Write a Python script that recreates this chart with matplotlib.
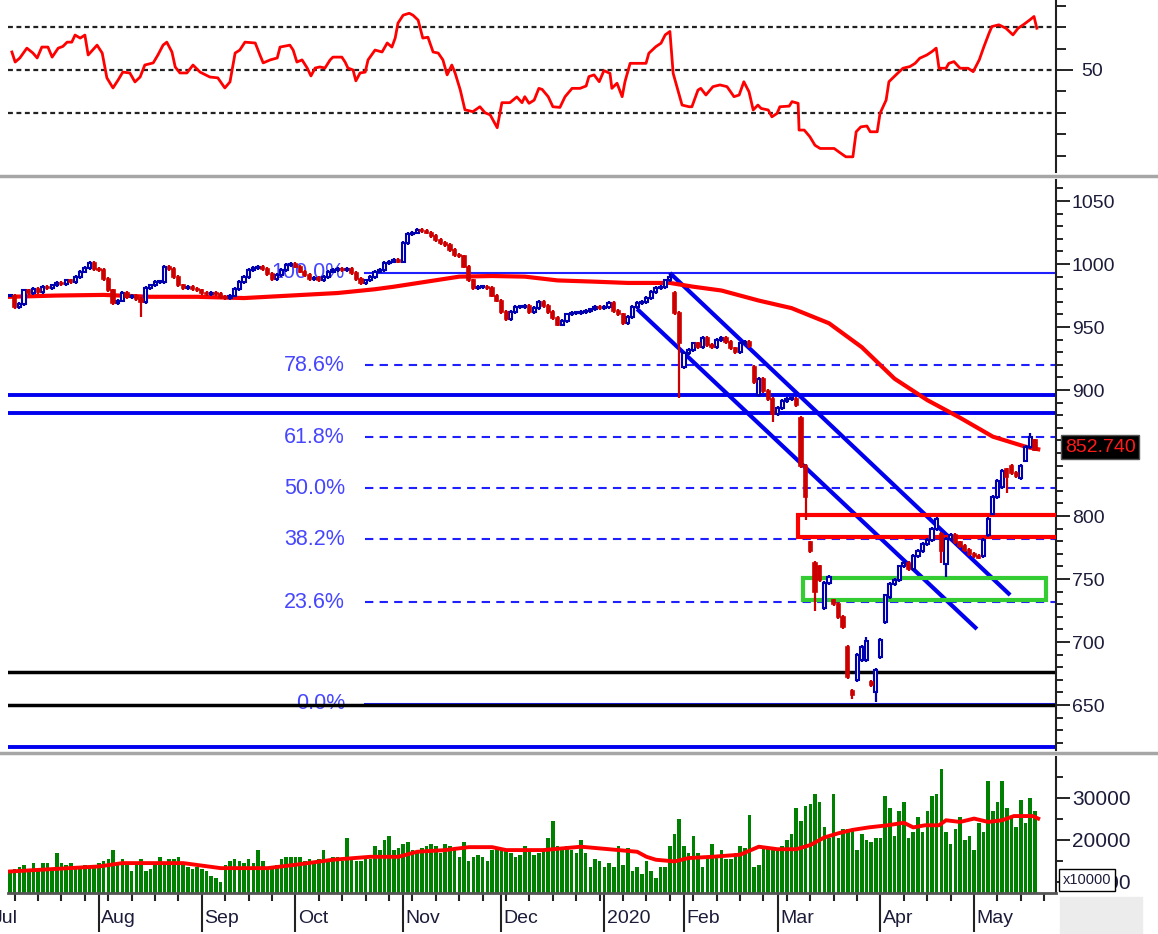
import matplotlib
matplotlib.use("Agg")
import matplotlib.pyplot as plt
import numpy as np
from matplotlib.patches import Rectangle
from matplotlib.lines import Line2D
from matplotlib.transforms import blended_transform_factory

plt.rcParams['font.family'] = ['Liberation Sans', 'DejaVu Sans']

W, H = 1158, 934

# ---- daily closes, one list per month (trading days) ----
jul = [975, 966, 968, 979, 977, 980, 978, 982, 981, 983, 985, 984, 987, 986, 990, 994, 997, 1001, 996]
aug = [995, 988, 979, 969, 971, 977, 974, 975, 972, 970, 981, 983, 986, 986, 998, 996, 990, 983, 981, 982, 980, 979]
sep = [977, 976, 977, 976, 974, 973, 975, 980, 986, 990, 995, 997, 998, 996, 992, 988, 991, 995, 999, 1000]
octo = [998, 994, 991, 988, 989, 987, 990, 994, 995, 996, 995, 996, 993, 988, 985, 987, 990, 994, 995, 1001, 1002, 1003, 1002]
nov = [1017, 1024, 1025, 1027, 1026, 1025, 1022, 1019, 1017, 1015, 1011, 1007, 1006, 998, 987, 981, 982, 982, 981, 975, 971]
dec = [962, 956, 962, 966, 966, 967, 962, 965, 970, 967, 962, 957, 952, 955, 960, 961, 961, 962, 963, 964, 966, 965]
jan = [966, 969, 963, 960, 953, 958, 966, 969, 970, 973, 978, 981, 982, 987, 990, 961, 937]
feb = [929, 932, 937, 934, 941, 936, 934, 940, 941, 938, 933, 930, 937, 938, 935, 906, 909, 899, 893, 881]
mar = [886, 891, 893, 893, 888, 840, 815, 772, 740, 749, 747, 752, 730, 720, 712, 672, 658, 690, 696, 701, 666, 678]
apr = [702, 737, 746, 749, 760, 763, 758, 768, 772, 778, 781, 790, 798, 772, 782, 785, 779, 776, 773, 770]
may = [768, 767, 781, 798, 815, 828, 836, 831, 834, 832, 840, 855, 863, 852.74]

# opening gaps (day index, open)
gap_days = [142, 144, 159, 160, 169, 171, 172, 173, 174, 176, 179, 180, 181, 182, 183, 184, 185,
            186, 187, 188, 199, 200, 208, 209, 210, 212, 213, 214, 216, 217, 219]
gap_opens = [977, 918, 918, 896, 878, 779, 763, 760, 727, 733, 696, 661, 670, 686, 686, 668, 660,
             688, 716, 736, 786, 762, 768, 785, 802, 823, 837, 840, 830, 844, 860]
# long shadows
low_days = [28, 143, 163, 170, 172, 180, 185, 199, 200, 213]
low_vals = [958, 894, 875, 797, 725, 655, 652, 763, 752, 818]
high_days = [141, 183, 218]
high_vals = [993, 704, 866]

# ---- volume (thousands), one list per month ----
vol_jul = [12.5, 13.0, 13.5, 14.0, 13.0, 14.5, 12.5, 14.5, 14.5, 13.0, 17.0, 14.5, 14.0, 14.5, 13.0, 13.0, 14.0, 13.5, 14.0]
vol_aug = [14.5, 15.0, 15.5, 17.5, 14.5, 15.5, 14.5, 12.5, 14.0, 15.5, 12.5, 13.0, 14.5, 16.0, 14.5, 15.5, 15.5, 16.0, 14.5, 13.5, 13.0, 13.5]
vol_sep = [13.0, 12.5, 11.5, 11.0, 10.0, 14.0, 15.0, 15.5, 15.0, 14.5, 15.5, 14.5, 17.5, 15.0, 13.0, 13.5, 14.0, 15.5, 16.0, 16.0]
vol_oct = [16.0, 16.0, 15.0, 15.5, 14.5, 15.5, 17.5, 15.0, 16.0, 16.0, 15.0, 20.5, 15.5, 15.0, 15.0, 16.0, 15.5, 18.5, 17.5, 20.0, 21.0, 17.5, 18.0]
vol_nov = [19.0, 19.5, 17.5, 17.0, 18.0, 18.5, 19.0, 18.5, 17.0, 19.0, 18.5, 17.5, 16.0, 19.5, 15.0, 16.0, 16.5, 16.0, 15.0, 17.5, 18.0]
vol_dec = [18.0, 17.5, 17.0, 16.0, 16.5, 18.5, 17.5, 16.5, 17.0, 17.5, 20.5, 24.5, 18.5, 18.0, 18.5, 17.5, 17.0, 20.0, 17.0, 13.5, 15.5, 15.0]
vol_jan = [13.5, 14.5, 13.5, 18.5, 14.0, 18.0, 12.5, 13.5, 12.0, 15.0, 12.5, 11.0, 13.5, 13.5, 18.5, 21.5, 25.0]
vol_feb = [18.5, 17.0, 21.0, 17.0, 13.5, 16.0, 19.0, 16.0, 17.5, 15.5, 15.5, 17.0, 18.5, 18.0, 26.0, 13.5, 14.0, 18.5, 18.0, 17.5]
vol_mar = [18.0, 18.5, 20.0, 21.5, 27.5, 24.5, 28.0, 28.5, 31.0, 29.0, 23.0, 20.5, 31.0, 20.5, 22.5, 22.5, 22.5, 17.5, 21.5, 20.0, 19.5, 20.5]
vol_apr = [20.5, 30.5, 27.5, 21.0, 27.0, 29.0, 20.5, 22.0, 25.5, 22.0, 27.0, 30.5, 31.0, 37.0, 22.0, 19.0, 22.5, 25.5, 20.0, 21.0]
vol_may = [17.5, 24.0, 22.0, 34.0, 27.0, 29.0, 34.0, 27.5, 25.5, 23.0, 29.5, 24.0, 30.0, 27.0]

# ---- moving averages ----
ma_day = [0, 10, 20, 30, 40, 50, 60, 70, 78, 82, 89, 96, 103, 110, 117, 125, 132, 141, 146, 152,
          160, 167, 175, 182, 189, 196, 203, 210, 217, 219.7]
ma_val = [974, 975, 975.5, 974, 974, 973, 975, 977, 980, 982, 986, 990, 990.5, 990, 987, 986, 985, 985, 982, 979,
          971, 965, 953, 934, 909, 892, 878, 863, 855, 853]
vma_day = [0, 19, 24, 37, 45, 55, 61, 69, 77, 83, 87, 93, 98, 103, 106, 114, 122, 130, 134, 136,
           138, 142, 145, 150, 156, 160, 164, 168, 171, 174, 177, 180, 183.5, 187.5, 191, 193, 195.5, 198.5, 200, 203,
           206, 209, 212, 214.5, 218.5, 219.7]
vma_val = [12.5, 13.7, 14.5, 14.5, 13.3, 13.3, 14.1, 15.3, 16.0, 16.0, 17.2, 17.6, 18.3, 18.3, 17.6, 17.6, 18.4, 17.6, 17.2, 16.0,
           15.3, 14.9, 15.7, 16.0, 16.5, 18.4, 17.8, 17.8, 18.8, 20.6, 21.6, 22.4, 23.0, 23.5, 24.1, 23.0, 23.5, 23.5, 24.7, 24.3,
           25.1, 24.3, 24.7, 25.7, 25.7, 25.1]

# ---- RSI ----
rsi_day = [0.4, 1.1, 2.1, 3.6, 4.9, 5.8, 6.8, 8.1, 9.0, 10.3, 11.3, 12.2, 13.2, 13.9, 15.0, 16.0, 16.7, 18.6, 19.7, 20.7,
           22.0, 23.1, 24.1, 25.6, 26.7, 27.8, 28.8, 30.6, 31.6, 32.7, 33.5, 34.6, 35.3, 36.3, 37.8, 39.1, 40.6, 42.7, 44.4, 45.9,
           47.0, 48.1, 49.1, 50.2, 52.4, 53.4, 54.1, 55.6, 57.1, 57.7, 59.8, 60.5, 61.3, 62.4, 63.5, 64.3, 65.2, 66.2, 67.3, 68.4,
           69.0, 70.9, 71.6, 72.2, 73.3, 73.9, 74.8, 75.9, 76.5, 78.0, 79.5, 80.6, 81.6, 82.3, 82.9, 84.0, 85.3, 86.1, 87.2, 88.2,
           89.3, 90.4, 91.5, 92.5, 93.4, 94.4, 95.1, 96.2, 97.2, 98.9, 100.4, 101.5, 102.6, 104.1, 105.1, 106.8, 108.3, 109.4,
           110.0, 110.9, 112.0, 113.0, 113.7, 115.0, 116.0, 117.5, 118.6, 120.1, 121.8, 123.1, 123.7, 124.8, 125.9, 126.9, 128.2, 128.6, 129.7, 130.8,
           131.4, 132.5, 134.0, 135.9, 136.5, 138.0, 139.1, 140.0, 141.0, 141.7, 142.5, 143.6, 145.1, 145.7, 147.0, 147.6, 148.7, 150.2, 151.7, 153.2,
           154.7, 155.8, 156.8, 157.9, 158.8, 159.8, 160.5, 162.0, 162.8, 163.9, 164.5, 166.5, 167.1, 168.4, 168.6, 169.7, 170.9, 172.0, 173.1, 176.1,
           177.1, 178.6, 180.1, 180.8, 181.8, 183.1, 183.8, 185.3, 185.9, 187.2, 187.8, 189.3, 190.8, 192.3, 193.4, 194.4, 195.9, 197.0, 197.9, 198.5,
           200.0, 200.6, 201.7, 203.0, 204.7, 205.8, 207.1, 208.1, 209.2, 209.8, 211.3, 212.8, 214.3, 215.4, 216.5, 217.9, 218.8, 219.4]
rsi_val = [58.4, 53.7, 55.6, 60.2, 57.9, 55.6, 60.7, 60.7, 56.0, 60.2, 61.0, 63.0, 63.0, 66.3, 64.9, 66.3, 57.0, 61.6, 57.9, 46.3,
           41.6, 45.3, 49.0, 48.6, 44.4, 46.7, 52.3, 53.3, 57.0, 61.6, 63.0, 58.4, 51.4, 48.6, 48.6, 52.3, 49.0, 46.7, 46.3, 41.6,
           44.4, 57.9, 59.3, 63.0, 62.6, 57.0, 53.3, 54.7, 55.6, 60.7, 61.6, 59.3, 53.7, 54.7, 50.9, 47.2, 50.9, 51.4, 50.9, 54.7,
           56.0, 56.0, 53.7, 50.9, 50.0, 44.9, 48.6, 49.0, 54.7, 59.3, 58.4, 62.6, 60.7, 64.9, 71.9, 75.6, 76.5, 75.6, 73.3, 64.9,
           65.3, 58.4, 57.9, 54.7, 47.7, 52.3, 48.6, 40.7, 31.4, 30.5, 32.8, 30.0, 29.0, 23.0, 34.7, 34.7, 37.4, 34.7,
           37.5, 34.4, 35.9, 41.4, 40.9, 37.5, 32.8, 32.5, 37.5, 41.4, 41.4, 42.5, 46.9, 47.7, 44.5, 49.7, 48.4, 41.4, 43.8, 37.5,
           44.5, 53.1, 53.1, 53.1, 57.8, 60.9, 62.5, 66.4, 68.0, 48.4, 42.2, 33.6, 32.8, 32.8, 40.6, 41.4, 38.3, 42.2, 43.0, 42.2,
           37.5, 38.3, 44.5, 39.8, 31.3, 33.6, 32.0, 31.3, 28.1, 29.7, 32.8, 33.1, 35.2, 34.4, 21.9, 21.9, 18.8, 14.8, 13.3, 13.3,
           11.7, 9.4, 9.4, 21.1, 23.4, 23.8, 21.1, 21.1, 29.7, 35.9, 44.5, 47.7, 50.8, 51.6, 53.1, 55.5, 57.0, 58.6, 60.2, 50.8,
           50.8, 53.1, 53.9, 50.8, 50.8, 49.2, 54.7, 60.9, 67.2, 70.3, 71.1, 69.5, 66.4, 69.5, 71.1, 73.4, 75.0, 69.5]

# ---- drawing annotations ----
fib_hi, fib_lo = 993, 651
fib_ratios = [1.0, 0.786, 0.618, 0.5, 0.382, 0.236, 0.0]
fib_labels = ['100.0%', '78.6%', '61.8%', '50.0%', '38.2%', '23.6%', '0.0%']
support_blue = [896, 882, 617]
support_black = [676, 650]
channel_upper = ([141, 213.7], [992.9, 737.3])
channel_lower = ([134, 206.6], [964.3, 710.3])
red_zone = (168.4, 783.3, 800.8)
green_zone = (169.4, 221.4, 733.3, 750.8)
last_price = '852.740'

month_starts = [19, 41, 61, 84, 105, 127, 144, 164, 186, 206]
month_names = ['Aug', 'Sep', 'Oct', 'Nov', 'Dec', '2020', 'Feb', 'Mar', 'Apr', 'May']

# ---- assemble series ----
close = np.array(jul + aug + sep + octo + nov + dec + jan + feb + mar + apr + may, dtype=float)
volume = np.array(vol_jul + vol_aug + vol_sep + vol_oct + vol_nov + vol_dec + vol_jan + vol_feb
                  + vol_mar + vol_apr + vol_may) * 1000
n = len(close)
days = np.arange(n)
opn = np.concatenate([[close[0]], close[:-1]])
opn[gap_days] = gap_opens
WICK = 1.5
high = np.maximum(opn, close) + WICK
low = np.minimum(opn, close) - WICK
low[low_days] = low_vals
high[high_days] = high_vals


def box(l, t, r, b):
    return [l / W, 1 - b / H, (r - l) / W, (b - t) / H]


fig = plt.figure(figsize=(W / 100, H / 100), dpi=100)
ax_r = fig.add_axes(box(8, 0, 1056, 172))
ax_p = fig.add_axes(box(8, 180, 1056, 750))
ax_v = fig.add_axes(box(8, 757, 1056, 893))

TXT = '#1c1c3a'
for ax in (ax_r, ax_p, ax_v):
    for s in ('top', 'left', 'bottom'):
        ax.spines[s].set_visible(False)
    ax.spines['right'].set_linewidth(1.5)
    ax.spines['right'].set_color('#202020')
    ax.set_xlim(-0.43, 223.5)
    ax.yaxis.tick_right()
    ax.tick_params(axis='y', which='major', length=10, width=1.2, labelsize=14, labelcolor=TXT, pad=1.5)
    ax.tick_params(axis='y', which='minor', length=5, width=1.2)
    ax.tick_params(axis='x', which='both', bottom=False, labelbottom=False)

# ---- RSI panel ----
ax_r.set_ylim(2.3, 82.7)
for lvl in (70, 50, 30):
    ax_r.axhline(lvl, color='#222222', lw=1.6, ls=(0, (2.2, 1.6)), zorder=1)
ax_r.plot(rsi_day, rsi_val, color='#ff0000', lw=2, zorder=3)
ax_r.set_yticks([50])
ax_r.set_yticklabels(['50'])
ax_r.set_yticks([10, 20, 30, 40, 60, 70, 80], minor=True)
ax_r.tick_params(axis='y', which='major', length=12, pad=6)
ax_r.tick_params(axis='y', which='minor', length=7)

# ---- price panel ----
ax_p.set_ylim(614.3, 1066.7)
ax_p.set_yticks(np.arange(650, 1051, 50))
ax_p.set_yticks(np.arange(620, 1061, 10), minor=True)

fib_start, fib_text_x = 75.9, 71.6
for r, lab in zip(fib_ratios, fib_labels):
    lvl = fib_lo + r * (fib_hi - fib_lo)
    ls = '-' if r in (0.0, 1.0) else (0, (4, 3))
    ax_p.plot([fib_start, 224], [lvl, lvl], color='#2020ff', lw=1.5, ls=ls, zorder=2)
    ax_p.text(fib_text_x, lvl, lab, color='#4646ff', fontsize=15.5, ha='right', va='center', zorder=2)

for lvl in support_blue:
    ax_p.axhline(lvl, color='#0000ee', lw=2.8, zorder=2)
for lvl in support_black:
    ax_p.axhline(lvl, color='#000000', lw=2.5, zorder=2)

ax_p.plot(*channel_upper, color='#0000ee', lw=3, solid_capstyle='butt', zorder=4)
ax_p.plot(*channel_lower, color='#0000ee', lw=3, solid_capstyle='butt', zorder=4)

ax_p.add_patch(Rectangle((red_zone[0], red_zone[1]), 60, red_zone[2] - red_zone[1],
                         fill=False, ec='#ff0000', lw=3, zorder=4))
ax_p.add_patch(Rectangle((green_zone[0], green_zone[2]), green_zone[1] - green_zone[0],
                         green_zone[3] - green_zone[2], fill=False, ec='#33cc33', lw=3, zorder=4))

ax_p.plot(ma_day, ma_val, color='#ff0000', lw=3, zorder=4)

up = close >= opn
body_lo = np.minimum(opn, close)
body_h = np.maximum(np.abs(close - opn), 0.8)
ax_p.vlines(days[up], low[up], high[up], color='#0000b0', lw=1.6, zorder=5)
ax_p.vlines(days[~up], low[~up], high[~up], color='#cc0000', lw=1.6, zorder=5)
ax_p.bar(days[up], body_h[up], bottom=body_lo[up], width=0.68, facecolor='white',
         edgecolor='#0000b0', lw=1.5, zorder=6)
ax_p.bar(days[~up], body_h[~up], bottom=body_lo[~up], width=0.68, facecolor='#cc0000',
         edgecolor='#cc0000', lw=1.2, zorder=6)

# ---- volume panel ----
ax_v.set_ylim(7380, 39760)
ax_v.bar(days, volume, width=0.76, color='#008000', zorder=2)
ax_v.plot(vma_day, np.array(vma_val) * 1000, color='#ff0000', lw=2.8, zorder=3)
ax_v.set_yticks([10000, 20000, 30000])
ax_v.set_yticks([15000, 25000, 35000], minor=True)
ax_v.tick_params(axis='y', which='major', labelsize=15)
ax_v.spines['bottom'].set_visible(True)
ax_v.spines['bottom'].set_linewidth(2)
ax_v.spines['bottom'].set_color('#555555')
ax_v.set_xticks(month_starts)
ax_v.set_xticks(np.arange(1, 222, 5), minor=True)
ax_v.tick_params(axis='x', which='major', bottom=True, length=28, width=1.5, color='#222222', labelbottom=False)
ax_v.tick_params(axis='x', which='minor', bottom=True, length=6, width=1.5, color='#222222')
tr = blended_transform_factory(ax_v.transData, ax_v.transAxes)
for d, name in zip(month_starts, month_names):
    ax_v.text(d + 0.5, -0.19, name, transform=tr, fontsize=14, color=TXT, ha='left', va='center')
ax_v.text(-3.6, -0.19, 'Jul', transform=tr, fontsize=14, color=TXT, ha='left', va='center', clip_on=False)

# ---- figure decorations ----
for py in (176, 753):
    fig.add_artist(Line2D([0, 1], [1 - py / H] * 2, transform=fig.transFigure, color='#a6a6a6', lw=2.5))
fig.add_artist(Rectangle((1060 / W, 0), 82 / W, 37 / H, transform=fig.transFigure, color='#ececec', zorder=0))
fig.text(1087 / W, 1 - 880 / H, 'x10000', fontsize=10.5, color=TXT, ha='center', va='center', zorder=10,
         bbox=dict(boxstyle='square,pad=0.25', fc='white', ec='black', lw=1))
fig.text(1100 / W, 1 - 447 / H, last_price, fontsize=14, color='#ff1a1a', ha='center', va='center', zorder=10,
         bbox=dict(boxstyle='square,pad=0.2', fc='black', ec='#555555', lw=1))

fig.savefig('out.png', dpi=100)
